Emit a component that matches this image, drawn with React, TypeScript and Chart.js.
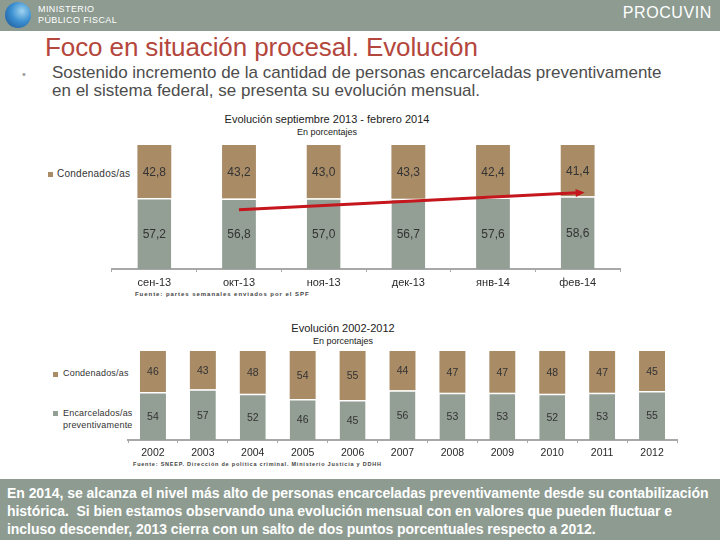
import React, { useEffect, useRef } from "react";
import { Chart, registerables } from "chart.js";

Chart.register(...registerables);

const FONT = '"Liberation Sans", Arial, sans-serif';

const monthLabels = ["сен-13", "окт-13", "ноя-13", "дек-13", "янв-14", "фев-14"];
const monthCondenados = [42.8, 43.2, 43.0, 43.3, 42.4, 41.4];
const monthPreventivos = [57.2, 56.8, 57.0, 56.7, 57.6, 58.6];
const monthTrend = [null, 47.7, null, null, null, 61.4];

const yearLabels = ["2002", "2003", "2004", "2005", "2006", "2007", "2008", "2009", "2010", "2011", "2012"];
const yearCondenados = [46, 43, 48, 54, 55, 44, 47, 47, 48, 47, 45];
const yearPreventivos = [54, 57, 52, 46, 45, 56, 53, 53, 52, 53, 55];

const BROWN = "#a98b66";
const GREY = "#939e95";
const BAND = "#8d9b91";

const valueLabels = {
  id: "valueLabels",
  afterDatasetsDraw(chart: any, _args: any, opts: any) {
    const ctx = chart.ctx;
    ctx.save();
    ctx.font = `${opts.size}px ${FONT}`;
    ctx.fillStyle = opts.color;
    ctx.textAlign = "center";
    ctx.textBaseline = "middle";
    chart.data.datasets.forEach((ds: any, i: number) => {
      if (ds.type === "line") return;
      const meta = chart.getDatasetMeta(i);
      meta.data.forEach((el: any, j: number) => {
        const v = ds.data[j];
        if (v == null) return;
        const p = el.getProps(["x", "y", "base"], true);
        const txt = opts.decimals ? v.toFixed(opts.decimals).replace(".", ",") : String(v);
        ctx.fillText(txt, p.x, (p.y + p.base) / 2 + 1);
      });
    });
    ctx.restore();
  },
};

const arrowHead = {
  id: "arrowHead",
  afterDatasetsDraw(chart: any) {
    chart.data.datasets.forEach((ds: any, i: number) => {
      if (ds.type !== "line") return;
      const meta = chart.getDatasetMeta(i);
      const pts = meta.data.filter((p: any, j: number) => ds.data[j] != null);
      if (pts.length < 2) return;
      const a = pts[pts.length - 2];
      const b = pts[pts.length - 1];
      const ang = Math.atan2(b.y - a.y, b.x - a.x);
      const ctx = chart.ctx;
      ctx.save();
      ctx.fillStyle = ds.borderColor;
      ctx.translate(b.x + 3 * Math.cos(ang), b.y + 3 * Math.sin(ang));
      ctx.rotate(ang);
      ctx.beginPath();
      ctx.moveTo(4, 0);
      ctx.lineTo(-5, -4);
      ctx.lineTo(-5, 4);
      ctx.closePath();
      ctx.fill();
      ctx.restore();
    });
  },
};

function StackChart(props: {
  labels: string[];
  top: number[];
  bottom: number[];
  trend?: (number | null)[];
  width: number;
  height: number;
  padding: any;
  barPct: number;
  tickSize: number;
  labelSize: number;
  decimals: number;
  axisHeight: number;
}) {
  const ref = useRef<HTMLCanvasElement>(null);
  useEffect(() => {
    const datasets: any[] = [
      {
        type: "bar",
        label: "Encarcelados/as preventivamente",
        data: props.bottom,
        backgroundColor: GREY,
        borderColor: "#ffffff",
        borderWidth: { top: 1.5, left: 0, right: 0, bottom: 0 },
        stack: "s",
        order: 2,
      },
      {
        type: "bar",
        label: "Condenados/as",
        data: props.top,
        backgroundColor: BROWN,
        borderWidth: 0,
        stack: "s",
        order: 2,
      },
    ];
    if (props.trend) {
      datasets.push({
        type: "line",
        label: "tendencia",
        data: props.trend,
        borderColor: "#c4161c",
        borderWidth: 3,
        pointRadius: 0,
        spanGaps: true,
        stack: "arrow",
        order: 0,
      });
    }
    const chart = new Chart(ref.current as HTMLCanvasElement, {
      type: "bar",
      data: { labels: props.labels, datasets },
      options: {
        animation: false,
        responsive: false,
        layout: { padding: props.padding },
        datasets: { bar: { categoryPercentage: 1, barPercentage: props.barPct } },
        plugins: {
          legend: { display: false },
          tooltip: { enabled: false },
          valueLabels: { size: props.labelSize, color: "#333333", decimals: props.decimals },
        } as any,
        scales: {
          x: {
            stacked: true,
            offset: true,
            grid: {
              display: true,
              offset: true,
              drawOnChartArea: false,
              drawTicks: true,
              tickLength: 3,
              color: "#a8a8a8",
            },
            border: { display: true, color: "#a8a8a8", width: 2 },
            ticks: { color: "#2a2a2a", font: { family: FONT, size: props.tickSize }, padding: 4, maxRotation: 0 },
            afterFit: (s: any) => {
              s.height = props.axisHeight;
            },
          },
          y: { stacked: true, display: false, min: 0, max: 100 },
        },
      },
      plugins: [valueLabels, arrowHead],
    } as any);
    return () => chart.destroy();
  }, []);
  return <canvas ref={ref} width={props.width} height={props.height} style={{ display: "block" }} />;
}

const abs = (left: number, top: number, extra: any = {}) => ({ position: "absolute" as const, left, top, ...extra });

export default function App() {
  return (
    <div style={{ position: "absolute", left: 0, top: 0, width: 720, height: 540, background: "#fff", overflow: "hidden", fontFamily: FONT }}>
      {/* header */}
      <div style={abs(0, 0, { width: 720, height: 31, background: BAND })} />
      <div
        style={abs(5, 2, {
          width: 26,
          height: 26,
          borderRadius: "50%",
          background: "radial-gradient(circle at 65% 35%, #9fd3f0 0%, #3b8fd0 45%, #1a4f8f 100%)",
        })}
      />
      <div style={abs(38, 4, { color: "#fff", fontSize: 9, lineHeight: "11px", letterSpacing: 0.4 })}>
        MINISTERIO
        <br />
        PÚBLICO FISCAL
      </div>
      <div style={abs(0, 4, { width: 712, textAlign: "right", color: "#fff", fontSize: 16, lineHeight: "18px", letterSpacing: 0.6 })}>
        PROCUVIN
      </div>

      {/* title */}
      <div style={abs(45, 32, { color: "#b4473d", fontSize: 26, lineHeight: "30px", letterSpacing: -0.1, whiteSpace: "nowrap" })}>
        Foco en situación procesal. Evolución
      </div>
      <div style={abs(22, 65, { color: "#9a9a9a", fontSize: 11, lineHeight: "18px" })}>•</div>
      <div style={abs(52, 64, { color: "#4d4d4d", fontSize: 17, lineHeight: "18px", whiteSpace: "nowrap" })}>
        Sostenido incremento de la cantidad de personas encarceladas preventivamente
        <br />
        en el sistema federal, se presenta su evolución mensual.
      </div>

      {/* chart 1 titles */}
      <div style={abs(0, 112, { width: 654, textAlign: "center", color: "#222", fontSize: 11, lineHeight: "14px" })}>
        Evolución septiembre 2013 - febrero 2014
      </div>
      <div style={abs(0, 126, { width: 654, textAlign: "center", color: "#222", fontSize: 9, lineHeight: "12px" })}>
        En porcentajes
      </div>
      {/* chart 1 legend */}
      <div style={abs(48, 172, { width: 5, height: 5, background: BROWN })} />
      <div style={abs(57, 168, { color: "#333", fontSize: 10, lineHeight: "12px", letterSpacing: 0.25 })}>Condenados/as</div>

      <div style={abs(0, 140)}>
        <StackChart
          labels={monthLabels}
          top={monthCondenados}
          bottom={monthPreventivos}
          trend={monthTrend}
          width={720}
          height={150}
          padding={{ left: 112, right: 100, top: 5, bottom: 0 }}
          barPct={0.4}
          tickSize={11}
          labelSize={12}
          decimals={1}
          axisHeight={21}
        />
      </div>
      <div style={abs(135, 291, { color: "#444", fontSize: 6, lineHeight: "7px", fontWeight: "bold", letterSpacing: 0.95, whiteSpace: "nowrap" })}>
        Fuente: partes semanales enviados por el SPF
      </div>

      {/* chart 2 titles */}
      <div style={abs(0, 321, { width: 686, textAlign: "center", color: "#222", fontSize: 11, lineHeight: "14px" })}>
        Evolución 2002-2012
      </div>
      <div style={abs(0, 335, { width: 686, textAlign: "center", color: "#222", fontSize: 9, lineHeight: "12px" })}>
        En porcentajes
      </div>
      {/* chart 2 legend */}
      <div style={abs(53, 372, { width: 5, height: 5, background: BROWN })} />
      <div style={abs(63, 368, { color: "#333", fontSize: 9, lineHeight: "11px", letterSpacing: 0.2 })}>Condenados/as</div>
      <div style={abs(53, 411, { width: 5, height: 5, background: GREY })} />
      <div style={abs(63, 407, { color: "#333", fontSize: 9, lineHeight: "12px", letterSpacing: 0.2 })}>
        Encarcelados/as
        <br />
        preventivamente
      </div>

      <div style={abs(0, 345)}>
        <StackChart
          labels={yearLabels}
          top={yearCondenados}
          bottom={yearPreventivos}
          width={720}
          height={115}
          padding={{ left: 128, right: 43, top: 6, bottom: 0 }}
          barPct={0.52}
          tickSize={10.5}
          labelSize={10.5}
          decimals={0}
          axisHeight={20}
        />
      </div>
      <div style={abs(133, 461, { color: "#444", fontSize: 5.5, lineHeight: "7px", fontWeight: "bold", letterSpacing: 0.78, whiteSpace: "nowrap" })}>
        Fuente: SNEEP. Dirección de política criminal. Ministerio Justicia y DDHH
      </div>

      {/* bottom band */}
      <div style={abs(0, 479, { width: 720, height: 61, background: BAND })} />
      <div style={abs(7, 484, { color: "#fff", fontSize: 14, lineHeight: "18px", fontWeight: "bold", whiteSpace: "nowrap", letterSpacing: -0.05 })}>
        <div>En 2014, se alcanza el nivel más alto de personas encarceladas preventivamente desde su contabilización</div>
        <div>histórica.&nbsp; Si bien estamos observando una evolución mensual con en valores que pueden fluctuar e</div>
        <div>incluso descender, 2013 cierra con un salto de dos puntos porcentuales respecto a 2012.</div>
      </div>
    </div>
  );
}
